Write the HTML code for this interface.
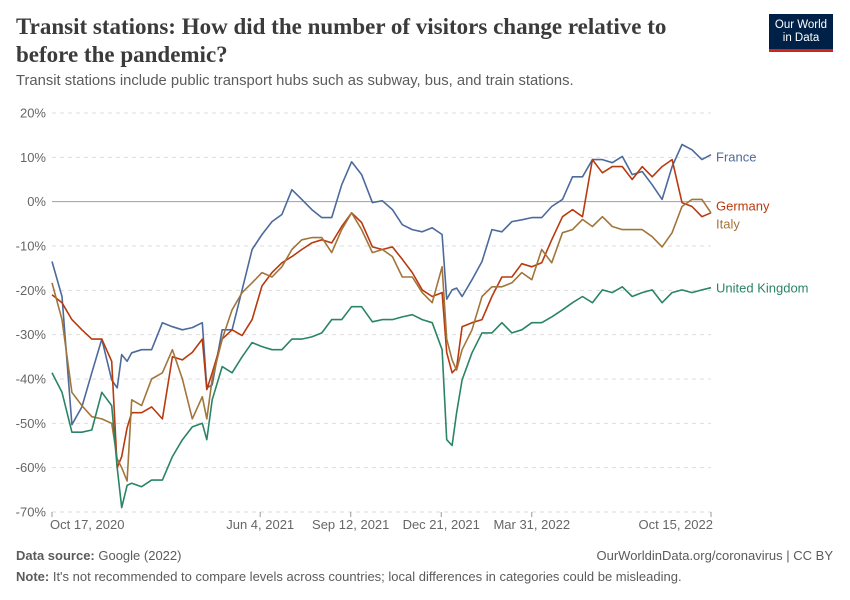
<!DOCTYPE html>
<html><head><meta charset="utf-8">
<style>
body{margin:0;background:#fff;}
#wrap{position:relative;width:850px;height:600px;overflow:hidden;font-family:"Liberation Sans",sans-serif;}
.t{position:absolute;white-space:nowrap;}
</style></head>
<body>
<div id="wrap">
<div class="t" style="left:16px;top:13px;font-family:'Liberation Serif',serif;font-weight:bold;font-size:23px;line-height:28px;color:#3b3b3b;">Transit stations: How did the number of visitors change relative to<br>before the pandemic?</div>
<div class="t" style="left:16px;top:73px;font-size:14.8px;color:#5b5b5b;">Transit stations include public transport hubs such as subway, bus, and train stations.</div>
<div style="position:absolute;left:769px;top:14px;width:64px;height:38px;background:#002147;border-bottom:3px solid #ce261e;box-sizing:border-box;color:#fff;font-size:11.5px;line-height:13px;text-align:center;padding-top:5px;">Our World<br>in Data</div>
<svg id="chart" width="850" height="600" style="position:absolute;left:0;top:0;"></svg>
<div class="t" style="left:16px;top:548px;font-size:13px;color:#5b5b5b;"><b>Data source:</b> Google (2022)</div>
<div class="t" style="right:17px;top:548px;font-size:13px;color:#5b5b5b;">OurWorldinData.org/coronavirus | CC BY</div>
<div class="t" style="left:16px;top:569px;font-size:13px;color:#5b5b5b;"><b>Note:</b> It's not recommended to compare levels across countries; local differences in categories could be misleading.</div>
</div>
<script>
const days=[0,11,22,33,44,55,66,72,77,83,88,99,110,122,133,144,155,166,171,177,188,199,210,221,232,243,254,265,276,287,298,309,320,331,342,354,365,376,387,398,409,420,431,436,442,447,453,464,475,486,497,508,519,530,541,552,564,575,586,597,608,619,630,641,652,663,674,685,696,707,718,728];
const france=[-13.5,-21.4,-50.3,-46.3,-38.6,-31,-40.2,-42,-34.5,-36,-34.1,-33.4,-33.4,-27.3,-28.2,-28.9,-28.4,-27.3,-42,-41.3,-28.9,-28.9,-19.9,-10.8,-7.4,-4.5,-2.9,2.7,0.5,-1.8,-3.6,-3.6,3.8,9.0,6.1,-0.2,0.2,-1.8,-5.2,-6.3,-6.8,-5.9,-7.4,-22,-19.9,-19.5,-21.4,-17.6,-13.5,-6.3,-6.8,-4.5,-4.1,-3.6,-3.6,-1.1,0.5,5.6,5.6,9.5,9.5,8.8,10.2,6.1,6.8,3.8,0.5,7.9,12.9,11.7,9.5,10.6];
const germany=[-21,-22.8,-26.6,-28.9,-31,-31,-36,-60,-57.5,-51,-47.6,-47.6,-46.3,-49,-35,-35.7,-34,-31,-42.4,-38.6,-31,-28.9,-30.2,-26.6,-19,-16,-13.8,-12.4,-10.8,-9.3,-8.6,-9.3,-5.6,-2.5,-4.7,-10.2,-10.8,-10.2,-13,-16,-19.9,-21.4,-20.5,-34,-38.6,-37.5,-28.2,-27.3,-26.6,-21.4,-17,-17,-14,-14.7,-13.8,-8.6,-3.4,-1.8,-3.4,9.5,6.5,7.9,7.9,5,7.9,5.6,7.9,9.5,-0.2,-1.1,-3.4,-2.5];
const italy=[-18.3,-26.6,-43,-46,-48.5,-49,-50,-58,-60,-63,-44.7,-46,-40,-38.6,-33.4,-40,-49,-44,-49,-40,-31,-24.4,-20.5,-18.3,-16,-17,-14.7,-10.8,-8.6,-8.1,-8.1,-11.5,-6.3,-2.5,-6.3,-11.5,-10.8,-12.4,-17,-17,-20.5,-22.8,-14.7,-31,-35.7,-38,-33.4,-28.9,-21.4,-19.2,-19.2,-18.3,-16,-17.6,-10.8,-13.8,-7,-6.3,-4,-5.6,-3.4,-5.6,-6.3,-6.3,-6.3,-7.9,-10.2,-7,-1.1,0.5,0.5,-2.5];
const uk=[-38.6,-43,-52,-52,-51.5,-43,-46,-60,-69,-64,-63.5,-64.3,-62.8,-62.8,-57.5,-53.7,-50.8,-50,-53.7,-44.7,-37.2,-38.6,-35,-31.8,-32.7,-33.4,-33.4,-31,-31,-30.5,-29.6,-26.6,-26.6,-23.7,-23.7,-27.1,-26.6,-26.6,-26,-25.5,-26.6,-27.3,-33.4,-53.7,-55,-47.6,-40.2,-34.1,-29.6,-29.6,-27.3,-29.6,-28.9,-27.3,-27.3,-26,-24.4,-22.8,-21.4,-22.8,-19.9,-20.5,-19.2,-21.4,-20.5,-19.9,-22.8,-20.5,-19.9,-20.5,-19.9,-19.4];
const yTicks=[20,10,0,-10,-20,-30,-40,-50,-60,-70];
const xTickDays=[0,230,330,430,530,728];
const xTickLabels=["Oct 17, 2020","Jun 4, 2021","Sep 12, 2021","Dec 21, 2021","Mar 31, 2022","Oct 15, 2022"];
const seriesNames=["France","Germany","Italy","United Kingdom"];
const seriesColors=["#4c6a9c","#b83a0f","#a2753a","#2b8465"];

const NS="http://www.w3.org/2000/svg";
const svg=document.getElementById('chart');
const X0=52,X1=711,Y0=113,Y1=512,DMAX=728,VMAX=20,VMIN=-70;
const xs=d=>X0+(d/DMAX)*(X1-X0);
const ys=v=>Y0+(VMAX-v)/(VMAX-VMIN)*(Y1-Y0);
function mk(tag,attrs){const e=document.createElementNS(NS,tag);for(const k in attrs)e.setAttribute(k,attrs[k]);svg.appendChild(e);return e;}
yTicks.forEach(v=>{
  const y=ys(v);
  const l=mk('line',{x1:X0,x2:X1,y1:y,y2:y,stroke:v===0?'#a0a0a0':'#dddddd','stroke-width':1,'stroke-dasharray':v===0?'none':'4,4'});
  
  
  const t=mk('text',{x:46,y:y+4.5,'text-anchor':'end','font-size':13,fill:'#666','font-family':'Liberation Sans, sans-serif'});
  t.textContent=v+'%';
  
  
});
xTickDays.forEach((d,i)=>{
  const x=xs(d);
  const l=mk('line',{x1:x,x2:x,y1:Y1,y2:Y1+5,stroke:'#999','stroke-width':1});
  
  
  const anchor=i===0?'start':(i===xTickDays.length-1?'end':'middle');
  const t=mk('text',{x:i===0?x-2:(i===xTickDays.length-1?x+2:x),y:Y1+17,'text-anchor':anchor,'font-size':13,fill:'#666','font-family':'Liberation Sans, sans-serif'});
  t.textContent=xTickLabels[i];
  
  
});
const allSeries=[france,germany,italy,uk];
const labelY=[157,206,224,288];
allSeries.forEach((vals,si)=>{
  const pts=vals.map((v,i)=>xs(days[i]).toFixed(1)+','+ys(v).toFixed(1)).join(' ');
  const p=mk('polyline',{points:pts,fill:'none',stroke:seriesColors[si],'stroke-width':1.6,'stroke-linejoin':'round'});
  
  
  const t=mk('text',{x:716,y:labelY[si]+4.5,'font-size':13,fill:seriesColors[si],'font-family':'Liberation Sans, sans-serif'});
  t.textContent=seriesNames[si];
  
  
});
</script>
</body></html>
